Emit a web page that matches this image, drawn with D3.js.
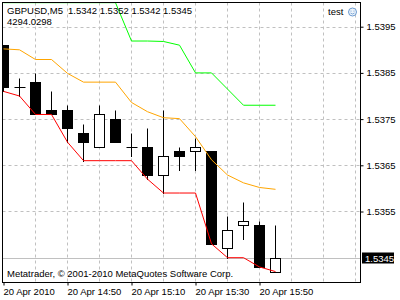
<!DOCTYPE html>
<html>
<head>
<meta charset="utf-8">
<script src="https://cdn.jsdelivr.net/npm/d3@7"></script>
<style>
  body { margin: 0; background: #fff; }
  svg text { font-family: "Liberation Sans", Arial, sans-serif; font-size: 9.5px; fill: #000; }
</style>
</head>
<body>
<svg width="400" height="300"></svg>
<script>
// 5 minute bars, 20 Apr 2010
let times = ['14:30','14:35','14:40','14:45','14:50','14:55','15:00','15:05','15:10',
             '15:15','15:20','15:25','15:30','15:35','15:40','15:45','15:50','15:55']
let open  = [1.5391,1.5382,1.5383,1.5377,1.5377,1.5372,1.5369,1.5375,1.5369,
             1.5369,1.5363,1.5368,1.5368,1.5368,1.5347,1.5352,1.5352,1.5342]
let high  = [1.5391,1.5384,1.5385,1.5381,1.5378,1.5374,1.5378,1.5377,1.5372,
             1.5373,1.5377,1.5369,1.5371,1.5368,1.5354,1.5357,1.5353,1.5352]
let low   = [1.5381,1.5380,1.5376,1.5376,1.5370,1.5366,1.5369,1.5370,1.5367,
             1.5362,1.5359,1.5364,1.5364,1.5348,1.5345,1.5349,1.5343,1.5342]
let close = [1.5382,1.5382,1.5376,1.5376,1.5373,1.5370,1.5376,1.5370,1.5369,
             1.5363,1.5367,1.5367,1.5369,1.5348,1.5351,1.5353,1.5343,1.5345]

// indicator lines
let redLine    = [1.5381,1.5380,1.5376,1.5376,1.5370,1.5366,1.5366,1.5366,1.5366,
                  1.5362,1.5359,1.5359,1.5359,1.5348,1.5345,1.5345,1.5343,1.5342]
let orangeLine = [1.53902,1.53900,1.53879,1.53879,1.53849,1.53830,1.53830,1.53830,1.53786,
                  1.53766,1.53753,1.53751,1.53712,1.53662,1.53629,1.53612,1.53602,1.53598]
let greenLine  = [1.54002,1.54002,1.54002,1.54002,1.54002,1.54002,1.54002,1.54002,1.53919,
                  1.53919,1.53918,1.53910,1.53850,1.53850,1.53815,1.53780,1.53780,1.53780]

let priceTicks = [1.5395, 1.5385, 1.5375, 1.5365, 1.5355]
let lastPrice = 1.5345
let timeTicks = [0, 4, 8, 12, 16]
let timeLabels = ['20 Apr 2010', '20 Apr 14:50', '20 Apr 15:10', '20 Apr 15:30', '20 Apr 15:50']

let svg = d3.select('svg')
let pLeft = 2.5, pRight = 360.5, pTop = 2.5, pBottom = 282.5

let x = d3.scaleLinear().domain([0, 22]).range([3.5, 355.5])
let y = d3.scaleLinear().domain([1.5345, 1.5395]).range([257.7, 26.7])
let py = v => Math.round(y(v)) + 0.5

svg.append('clipPath').attr('id', 'plot')
    .append('rect').attr('x', pLeft).attr('y', pTop)
    .attr('width', pRight - pLeft).attr('height', pBottom - pTop)

let plot = svg.append('g').attr('clip-path', 'url(#plot)')

// grid
plot.selectAll('.vgrid')
    .data(d3.range(2, 23, 2))
    .enter().append('line')
    .attr('x1', d => Math.floor(x(d)) + 0.5).attr('x2', d => Math.floor(x(d)) + 0.5)
    .attr('y1', pTop).attr('y2', pBottom)
    .attr('stroke', '#c0c0c0').attr('stroke-dasharray', '3,3')

plot.selectAll('.hgrid')
    .data(priceTicks)
    .enter().append('line')
    .attr('x1', pLeft).attr('x2', pRight)
    .attr('y1', d => py(d)).attr('y2', d => py(d))
    .attr('stroke', '#c0c0c0').attr('stroke-dasharray', '3,3')

// last price line
plot.append('line')
    .attr('x1', pLeft).attr('x2', pRight)
    .attr('y1', py(lastPrice)).attr('y2', py(lastPrice))
    .attr('stroke', '#c0c0c0')

// candles
let candles = plot.selectAll('.candle')
    .data(times.map((t, i) => i))
    .enter().append('g')

candles.append('line')
    .attr('x1', i => x(i)).attr('x2', i => x(i))
    .attr('y1', i => py(high[i])).attr('y2', i => py(low[i]) + 0.5)
    .attr('stroke', '#000')

candles.filter(i => open[i] !== close[i]).append('rect')
    .attr('x', i => x(i) - 5)
    .attr('width', 10)
    .attr('y', i => py(Math.max(open[i], close[i])))
    .attr('height', i => py(Math.min(open[i], close[i])) - py(Math.max(open[i], close[i])))
    .attr('fill', i => close[i] < open[i] ? '#000' : '#fff')
    .attr('stroke', '#000')

candles.filter(i => open[i] === close[i]).append('line')
    .attr('x1', i => x(i) - 5).attr('x2', i => x(i) + 6)
    .attr('y1', i => py(open[i])).attr('y2', i => py(open[i]))
    .attr('stroke', '#000')

// indicator lines
let line = d3.line().x((d, i) => x(i)).y(d => y(d))
;[[redLine, '#ff0000'], [orangeLine, '#ffa500'], [greenLine, '#00ff00']].forEach(([d, c]) => {
    plot.append('path')
        .attr('d', line(d))
        .attr('fill', 'none')
        .attr('stroke', c)
        .attr('stroke-width', 1)
})

// frame
svg.append('rect')
    .attr('x', pLeft).attr('y', pTop)
    .attr('width', pRight - pLeft).attr('height', pBottom - pTop)
    .attr('fill', 'none').attr('stroke', '#000')

// price axis
let yAxis = svg.append('g')
    .attr('transform', `translate(${pRight},0)`)
    .call(d3.axisRight(y).tickValues(priceTicks).tickSize(3).tickPadding(3).tickFormat(d3.format('.4f')))
yAxis.select('.domain').remove()
yAxis.selectAll('text').style('font-family', '"Liberation Sans", Arial, sans-serif').style('font-size', '9.5px')

svg.append('rect')
    .attr('x', 362).attr('y', py(lastPrice) - 6)
    .attr('width', 32).attr('height', 11)
    .attr('fill', '#000')
svg.append('text')
    .attr('x', 365).attr('y', py(lastPrice) + 3.5)
    .style('fill', '#fff')
    .text(lastPrice.toFixed(4))

// time axis
let xAxis = svg.append('g')
    .attr('transform', `translate(0,${pBottom})`)
    .call(d3.axisBottom(x).tickValues(timeTicks).tickSize(3).tickFormat((d, i) => timeLabels[i]))
xAxis.select('.domain').remove()
xAxis.selectAll('text')
    .attr('text-anchor', 'start')
    .attr('x', -0.5).attr('y', 12.5).attr('dy', 0)
    .style('font-family', '"Liberation Sans", Arial, sans-serif').style('font-size', '9.5px')

// header texts
svg.append('text').attr('x', 7).attr('y', 13.5)
    .text('GBPUSD,M5')
svg.append('text').attr('x', 68).attr('y', 13.5)
    .text(`${open[17].toFixed(4)} ${high[17].toFixed(4)} ${low[17].toFixed(4)} ${close[17].toFixed(4)}`)
svg.append('text').attr('x', 7).attr('y', 24.5)
    .text('4294.0298')
svg.append('text').attr('x', 328).attr('y', 14.5)
    .text('test')

// smiley
let face = svg.append('g').attr('transform', 'translate(352.5,12)')
face.append('circle').attr('r', 4).attr('fill', '#eef4fb').attr('stroke', '#6a9ad0')
face.append('circle').attr('cx', -1.5).attr('cy', -1).attr('r', 0.6).attr('fill', '#6a9ad0')
face.append('circle').attr('cx', 1.5).attr('cy', -1).attr('r', 0.6).attr('fill', '#6a9ad0')
face.append('path').attr('d', 'M-2,1 Q0,3 2,1').attr('fill', 'none').attr('stroke', '#6a9ad0').attr('stroke-width', 0.8)

svg.append('text').attr('x', 7).attr('y', 277)
    .text('Metatrader, © 2001-2010 MetaQuotes Software Corp.')
</script>
</body>
</html>
